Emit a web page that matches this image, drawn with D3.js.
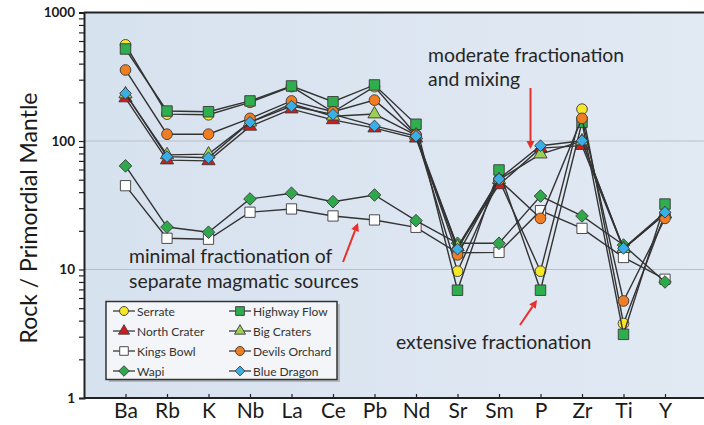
<!DOCTYPE html>
<html><head><meta charset="utf-8">
<script src="https://cdn.jsdelivr.net/npm/d3@7"></script>
<style>
html,body{margin:0;padding:0;background:#fff;}
svg{display:block;font-family:Lato,"Open Sans",sans-serif;}
</style></head>
<body><svg id="c" width="704" height="425"></svg>
<script>
const elements = ["Ba","Rb","K","Nb","La","Ce","Pb","Nd","Sr","Sm","P","Zr","Ti","Y"];
const serrate       = [560,162,160,200,265,168,265,112,9.7,50,9.7,177,3.8,27];
const northCrater   = [216,71,70,130,177,146,126,105,15,45.5,88,92,14.5,27];
const kingsBowl     = [44.9,17.5,17.2,27.9,29.6,26.1,24.3,21.3,13.5,13.6,28.7,20.9,12.4,8.4];
const wapi          = [64,21.4,19.5,35.4,39.2,33.7,38,24,16,16,37.3,26.1,15.5,8];
const highwayFlow   = [520,171,169,205,268,202,273,135,6.9,59.5,6.9,140,3.13,32.3];
const bigCraters    = [232,78,79,140,195,156,162,111,15,50,79,100,14.5,27];
const devilsOrchard = [357,113,113,150,205,169,208,111,13,50,25,150,5.69,25];
const blueDragon    = [235,75.5,74,140,187,161,131,109,14.4,50.6,91.9,100.5,14.6,27.9];
const seriesNames = ["Serrate","North Crater","Kings Bowl","Wapi","Highway Flow","Big Craters","Devils Orchard","Blue Dragon"];
const seriesValues = [serrate,northCrater,kingsBowl,wapi,highwayFlow,bigCraters,devilsOrchard,blueDragon];
const yTickValues = [1,10,100,1000];
const yTickLabels = ["1","10","100","1000"];

const squareDiamond = {draw(ctx,size){const r=Math.sqrt(size/2);ctx.moveTo(0,-r);ctx.lineTo(r,0);ctx.lineTo(0,r);ctx.lineTo(-r,0);ctx.closePath();}};
const style = {
  "Serrate":{shape:d3.symbolCircle,fill:"#f6e726",size:90},
  "North Crater":{shape:d3.symbolTriangle,fill:"#d01c1c",size:75},
  "Kings Bowl":{shape:d3.symbolSquare,fill:"#ffffff",size:105},
  "Wapi":{shape:squareDiamond,fill:"#2ea84a",size:80},
  "Highway Flow":{shape:d3.symbolSquare,fill:"#2eae4e",size:110},
  "Big Craters":{shape:d3.symbolTriangle,fill:"#9bcf55",size:75},
  "Devils Orchard":{shape:d3.symbolCircle,fill:"#ef7d22",size:90},
  "Blue Dragon":{shape:squareDiamond,fill:"#3aaee6",size:68}
};

const svg = d3.select("#c");
const pL=84, pR=706.5, pT=12.5, pB=398;
const x = d3.scalePoint().domain(elements).range([pL,pR]).padding(1);
const y = d3.scaleLog().domain([1,1000]).range([pB,pT]);

// plot background
const grad = svg.append("defs").append("linearGradient").attr("id","bg").attr("x1",0).attr("x2",1).attr("y1",0).attr("y2",0);
grad.append("stop").attr("offset","0%").attr("stop-color","#d7e2ef");
grad.append("stop").attr("offset","100%").attr("stop-color","#e1e9f3");
svg.append("rect").attr("x",pL).attr("y",pT).attr("width",704-pL).attr("height",pB-pT).attr("fill","url(#bg)");

// gridlines
svg.append("g").selectAll("line").data([10,100]).join("line")
  .attr("x1",pL).attr("x2",704).attr("y1",d=>y(d)).attr("y2",d=>y(d))
  .attr("stroke","#b9bfc6").attr("stroke-width",1);

// top border
svg.append("line").attr("x1",pL).attr("x2",704).attr("y1",pT).attr("y2",pT).attr("stroke","#222").attr("stroke-width",2);

// y axis
const yAxis = d3.axisLeft(y).tickValues(d3.range(0,3).flatMap(e=>d3.range(1,10).map(k=>k*Math.pow(10,e))).concat([1000]))
  .tickSize(5).tickFormat("");
const ya = svg.append("g").attr("transform",`translate(${pL},0)`).call(yAxis);
ya.select(".domain").attr("stroke","#222").attr("stroke-width",2);
ya.selectAll(".tick line").attr("stroke","#222").attr("stroke-width",1.2);
svg.append("g").selectAll("text").data(yTickValues).join("text")
  .attr("x",75).attr("y",d=>y(d)+4.5).attr("text-anchor","end")
  .attr("font-size",13.5).attr("font-weight","bold").attr("fill","#1a1a1a")
  .text((d,i)=>yTickLabels[i]);

// x axis
const xAxis = d3.axisBottom(x).tickSize(-4).tickPadding(10);
const xa = svg.append("g").attr("transform",`translate(0,${pB})`).call(xAxis);
xa.select(".domain").attr("d",`M${pL},0H704`).attr("stroke","#222").attr("stroke-width",2);
xa.selectAll(".tick line").attr("stroke","#222").attr("stroke-width",1.2);
xa.selectAll(".tick text").attr("font-size",21).attr("fill","#1a1a1a").attr("font-family","Lato,sans-serif").attr("dy","0.71em").attr("y",5);

// y title
svg.append("text").attr("transform",`translate(37,218) rotate(-90)`)
  .attr("text-anchor","middle").attr("font-size",23).attr("fill","#1a1a1a").text("Rock / Primordial Mantle");

// series
const line = d3.line().x((d,i)=>x(elements[i])).y(d=>y(d));
seriesNames.forEach((name,si)=>{
  const vals = seriesValues[si];
  const g = svg.append("g");
  g.append("path").attr("d",line(vals)).attr("fill","none").attr("stroke","#333").attr("stroke-width",1.4);
  const st = style[name];
  g.selectAll("path.m").data(vals).join("path").attr("class","m")
    .attr("transform",(d,i)=>`translate(${x(elements[i])},${y(d)})`)
    .attr("d",d3.symbol().type(st.shape).size(st.size))
    .attr("fill",st.fill).attr("stroke","#3a3a3a").attr("stroke-width",0.9);
});

// annotations
const ann = svg.append("g").attr("fill","#262626").attr("font-size",19.4);
ann.append("text").attr("x",428).attr("y",62).text("moderate fractionation");
ann.append("text").attr("x",428).attr("y",86).text("and mixing");
ann.append("text").attr("x",129).attr("y",263).text("minimal fractionation of");
ann.append("text").attr("x",129).attr("y",288).text("separate magmatic sources");
ann.append("text").attr("x",396).attr("y",349).text("extensive fractionation");

function arrow(x1,y1,x2,y2){
  const a = Math.atan2(y2-y1,x2-x1), L=8, W=4;
  const bx = x2-L*Math.cos(a), by=y2-L*Math.sin(a);
  svg.append("line").attr("x1",x1).attr("y1",y1).attr("x2",bx).attr("y2",by).attr("stroke","#e8302a").attr("stroke-width",2);
  svg.append("path").attr("d",`M${x2},${y2}L${bx+W*Math.sin(a)},${by-W*Math.cos(a)}L${bx-W*Math.sin(a)},${by+W*Math.cos(a)}Z`).attr("fill","#e8302a");
}
arrow(530.5,88,530.5,149);
arrow(343,262,358,223);
arrow(520,325,537,300);

// legend
const lg = svg.append("g");
lg.append("rect").attr("x",109).attr("y",304).attr("width",231).attr("height",78).attr("fill","#9a9a9a").attr("opacity",0.6);
lg.append("rect").attr("x",106).attr("y",301.5).attr("width",231).attr("height",78).attr("fill","#f3f5f8").attr("stroke","#333").attr("stroke-width",1.5);
seriesNames.forEach((name,i)=>{
  const col = Math.floor(i/4), row = i%4;
  const lx = col===0?113:229, ly = 311+row*20;
  const st = style[name];
  const it = lg.append("g").attr("transform",`translate(${lx},${ly})`);
  it.append("line").attr("x1",0).attr("x2",22).attr("y1",0).attr("y2",0).attr("stroke","#3a3a3a").attr("stroke-width",1.3);
  it.append("path").attr("transform","translate(11,0)").attr("d",d3.symbol().type(st.shape).size(st.size*0.7))
    .attr("fill",st.fill).attr("stroke","#3a3a3a").attr("stroke-width",0.9);
  it.append("text").attr("x",24).attr("y",4.5).attr("font-size",12).attr("fill","#333").text(name);
});
</script></body></html>
